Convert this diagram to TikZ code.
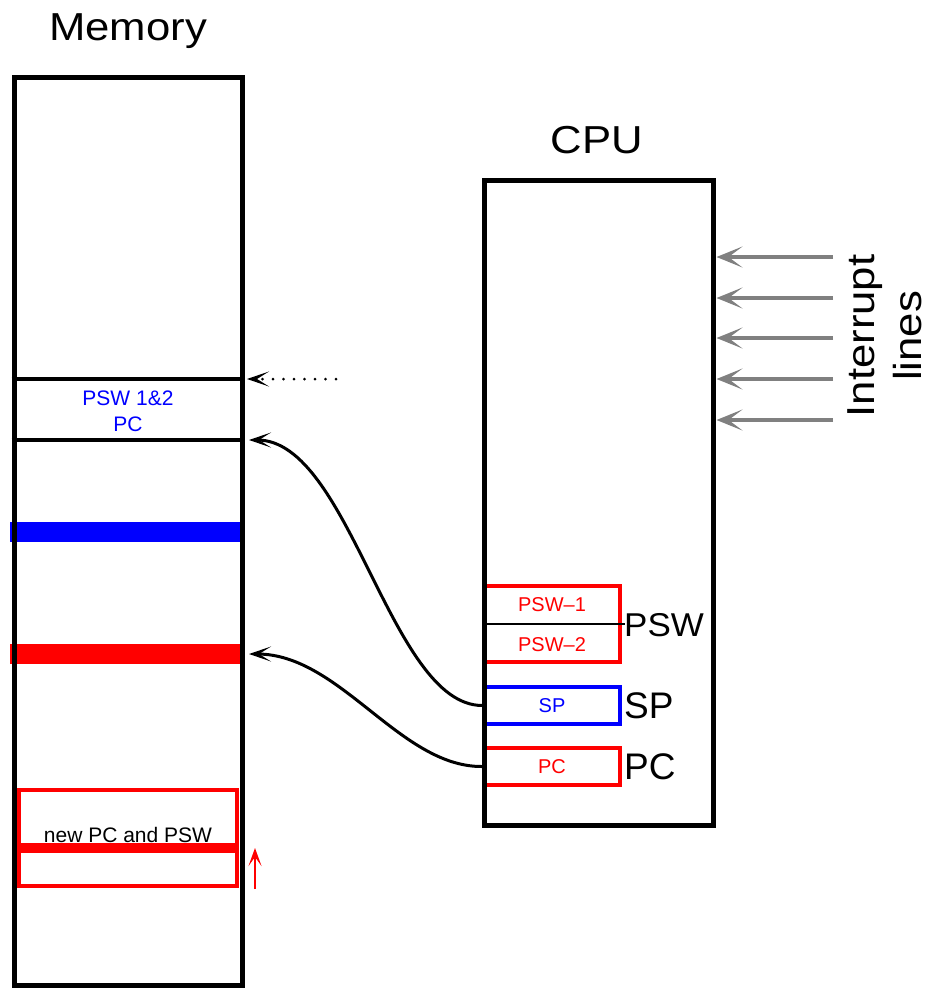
\documentclass[tikz,border=0pt]{standalone}
\usepackage{fontspec}
\usepackage{graphicx}
\setmainfont{Liberation Sans}
\usetikzlibrary{arrows.meta,calc}
\newcommand{\widetxt}[1]{\scalebox{1.12}[1]{#1}}
\tikzset{
  bigtxt/.style={font=\fontsize{39}{46}\selectfont, inner sep=0pt},
  midtxt/.style={font=\fontsize{37}{44}\selectfont, inner sep=0pt},
  smalltxt/.style={font=\fontsize{21}{26}\selectfont, inner sep=0pt},
  regtxt/.style={font=\fontsize{20}{24}\selectfont, inner sep=0pt},
  bigbox/.style={draw, line width=5pt, inner sep=0pt},
  regbox/.style={line width=4pt, inner sep=0pt, minimum width=136pt},
  bar/.style={inner sep=0pt, outer sep=0pt},
  blacktip/.style={-{Stealth[length=22pt,width=15pt,inset=12pt]}},
  curvearrow/.style={line width=3pt, blacktip},
  intarrow/.style={line width=4pt, draw={rgb,255:red,128;green,128;blue,128}, -{Stealth[length=26pt,width=21pt,inset=14pt]}, shorten >=1pt},
  redarrow/.style={line width=2.5pt, red, -{Stealth[length=18pt,width=13pt,inset=9pt]}},
}
\begin{document}
\begin{tikzpicture}[x=1pt,y=-1pt]
\useasboundingbox (0,0) rectangle (933,988);
% memory bars (under box)
\node[bar, fill=blue, minimum width=235pt, minimum height=20pt] (spbar) at (127.5,532) {};
\node[bar, fill=red, minimum width=235pt, minimum height=20pt] (pcbar) at (127.5,654) {};
% memory
\node[bigbox, minimum width=228pt, minimum height=908pt] (mem) at (128,531) {};
\node[bigtxt] (memlabel) at (128,31) {\widetxt{Memory}};
\draw[line width=4pt] (mem.west |- 0,379) -- (mem.east |- 0,379);
\draw[line width=4pt] (mem.west |- 0,440) -- (mem.east |- 0,440);
\node[smalltxt, text=blue, align=center] (slottext) at (128,411) {PSW 1\&2\\PC};
% new PC and PSW
\node[smalltxt, anchor=base] (newtext) at (128,842) {new PC and PSW};
\node[draw=red, line width=4pt, inner sep=0pt, minimum width=218pt, minimum height=96pt] (newbox) at (128,838) {};
\node[bar, fill=red, minimum width=218pt, minimum height=10pt] (newbar) at (128,848) {};
\coordinate (rs) at (255,889);
\coordinate (re) at (255,848);
\draw[redarrow] (rs) -- (re);
% CPU registers
\node[regbox, draw=red, minimum height=76pt] (pswbox) at (552,624) {};
\coordinate (pswmid) at (625,624);
\draw[line width=2pt] (pswbox.west) -- (pswmid);
\node[regtxt, text=red] (psw1) at (552,605) {PSW\textendash 1};
\node[regtxt, text=red] (psw2) at (552,645) {PSW\textendash 2};
\node[regbox, draw=blue, minimum height=37pt] (spbox) at (552,705.5) {};
\node[regtxt, text=blue] (sptext) at (552,706) {SP};
\node[regbox, draw=red, minimum height=37pt] (pcbox) at (552,766.5) {};
\node[regtxt, text=red] (pctext) at (552,767) {PC};
\node[font=\fontsize{33}{40}\selectfont, inner sep=0pt, anchor=west] (pswlabel) at (624,625) {\scalebox{1.06}[1]{PSW}};
\node[midtxt, anchor=west] (splabel) at (624,706) {SP};
\node[midtxt, anchor=west] (pclabel) at (624,767) {PC};
% CPU
\node[bigbox, minimum width=229pt, minimum height=645pt] (cpu) at (598.5,502.5) {};
\node[bigtxt] (cpulabel) at (597,140) {\widetxt{CPU}};
% interrupt lines
\foreach \yy [count=\k] in {257,298,338,379,420} {
  \coordinate (int\k) at (833,\yy);
  \draw[intarrow] (int\k) -- (cpu.east |- int\k);
}
\node[font=\fontsize{39}{47}\selectfont, inner sep=0pt, rotate=90, align=center] (intlabel) at (885,336) {\widetxt{Interrupt}\\\widetxt{lines}};
% connectors
\coordinate (tA) at (249,440);
\draw[curvearrow] (spbox.west) .. controls (390,705) and (350,440) .. (tA);
\coordinate (tB) at (249,654);
\draw[curvearrow] (pcbox.west) .. controls (400,767) and (340,654) .. (tB);
\coordinate (dS) at (336,379);
\coordinate (dE) at (247,379);
\draw[line width=3pt, line cap=round, dash pattern=on 0pt off 10.5pt, blacktip] (dS) -- (dE);
\end{tikzpicture}
\end{document}
